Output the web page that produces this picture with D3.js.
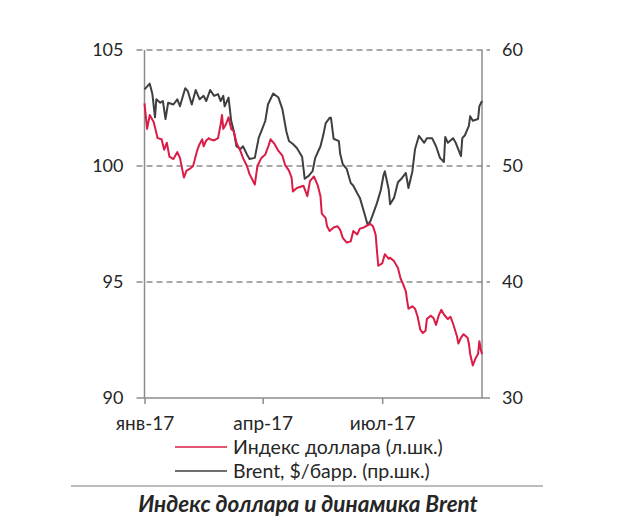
<!DOCTYPE html>
<html>
<head>
<meta charset="utf-8">
<script src="https://cdn.jsdelivr.net/npm/d3@7"></script>
<style>
    body { margin: 0; background: #fff; }
    text { font-family: Lato, "Open Sans", sans-serif; fill: #262626; }
</style>
</head>
<body>
<div id="chart"></div>
<script>
const dollarColor = '#da1c46';
const brentColor = '#3f3f3f';
const gridColor = '#8c8c8c';

// Индекс доллара (левая шкала)
const dollarDates = ['2017-01-01','2017-01-03','2017-01-05','2017-01-08','2017-01-11','2017-01-14','2017-01-16','2017-01-18','2017-01-20','2017-01-23','2017-01-26','2017-01-28','2017-01-31','2017-02-02','2017-02-05','2017-02-07','2017-02-10','2017-02-12','2017-02-14','2017-02-15','2017-02-17','2017-02-19','2017-02-20','2017-02-23','2017-02-26','2017-02-28','2017-03-01','2017-03-02','2017-03-04','2017-03-06','2017-03-08','2017-03-10','2017-03-12','2017-03-15','2017-03-17','2017-03-20','2017-03-22','2017-03-26','2017-03-28','2017-03-31','2017-04-03','2017-04-05','2017-04-07','2017-04-10','2017-04-13','2017-04-16','2017-04-18','2017-04-21','2017-04-23','2017-04-24','2017-04-27','2017-05-02','2017-05-05','2017-05-07','2017-05-10','2017-05-13','2017-05-15','2017-05-16','2017-05-19','2017-05-20','2017-05-22','2017-05-25','2017-05-28','2017-05-30','2017-06-01','2017-06-04','2017-06-07','2017-06-09','2017-06-12','2017-06-14','2017-06-17','2017-06-20','2017-06-22','2017-06-24','2017-06-26','2017-06-27','2017-06-28','2017-07-01','2017-07-03','2017-07-06','2017-07-07','2017-07-10','2017-07-13','2017-07-15','2017-07-17','2017-07-19','2017-07-20','2017-07-21','2017-07-24','2017-07-26','2017-07-28','2017-07-30','2017-08-01','2017-08-03','2017-08-04','2017-08-07','2017-08-09','2017-08-11','2017-08-13','2017-08-15','2017-08-17','2017-08-20','2017-08-22','2017-08-24','2017-08-27','2017-08-28','2017-08-30','2017-09-01','2017-09-04','2017-09-05','2017-09-06','2017-09-08','2017-09-10','2017-09-12','2017-09-13','2017-09-14','2017-09-15'];
const dollarValues = [102.7,101.6,102.2,101.9,101.2,101.15,100.7,101.0,100.4,100.3,100.6,100.35,99.5,99.8,99.9,100.0,100.65,100.95,101.15,100.85,101.1,101.2,101.15,101.1,101.2,101.8,102.2,101.6,101.8,102.1,101.6,101.5,101.0,100.65,100.35,100.0,99.65,99.2,100.0,100.35,100.5,100.8,101.15,100.95,100.65,100.45,100.05,99.8,99.5,98.9,99.05,99.15,98.7,99.35,99.55,99.15,98.7,97.95,97.75,97.4,97.2,97.35,97.4,97.25,96.9,96.7,96.75,97.2,97.05,97.3,97.35,97.45,97.5,97.4,97.05,96.35,95.7,95.8,96.2,96.0,96.05,95.9,95.6,95.15,94.9,94.6,94.2,93.85,93.95,93.85,93.5,92.95,92.8,92.9,93.4,93.55,93.45,93.15,93.55,93.8,93.6,93.4,93.5,93.2,92.65,92.35,92.6,92.75,92.6,92.35,91.9,91.4,91.7,91.9,92.45,92.1,91.9];

// Brent, $/барр. (правая шкала)
const brentDates = ['2017-01-01','2017-01-05','2017-01-07','2017-01-09','2017-01-10','2017-01-13','2017-01-15','2017-01-17','2017-01-19','2017-01-23','2017-01-26','2017-01-28','2017-02-01','2017-02-03','2017-02-06','2017-02-09','2017-02-12','2017-02-15','2017-02-17','2017-02-20','2017-02-23','2017-02-26','2017-02-28','2017-03-02','2017-03-03','2017-03-06','2017-03-08','2017-03-10','2017-03-12','2017-03-15','2017-03-17','2017-03-20','2017-03-22','2017-03-26','2017-03-29','2017-03-31','2017-04-03','2017-04-05','2017-04-09','2017-04-13','2017-04-16','2017-04-19','2017-04-21','2017-04-24','2017-04-27','2017-05-01','2017-05-03','2017-05-06','2017-05-09','2017-05-11','2017-05-15','2017-05-17','2017-05-19','2017-05-22','2017-05-23','2017-05-25','2017-05-29','2017-05-30','2017-06-01','2017-06-04','2017-06-07','2017-06-09','2017-06-12','2017-06-14','2017-06-17','2017-06-20','2017-06-22','2017-06-24','2017-06-27','2017-06-30','2017-07-02','2017-07-03','2017-07-06','2017-07-07','2017-07-10','2017-07-13','2017-07-16','2017-07-19','2017-07-21','2017-07-24','2017-07-26','2017-07-29','2017-08-01','2017-08-02','2017-08-04','2017-08-08','2017-08-11','2017-08-14','2017-08-17','2017-08-18','2017-08-20','2017-08-24','2017-08-26','2017-08-30','2017-08-31','2017-09-02','2017-09-05','2017-09-06','2017-09-08','2017-09-12','2017-09-13','2017-09-15'];
const brentValues = [56.6,57.1,56.2,54.2,55.75,55.45,55.6,54.05,55.45,55.3,55.75,55.15,56.7,56.45,55.3,56.55,55.75,56.05,55.6,56.55,56.05,56.2,55.6,56.05,55.15,55.9,53.9,53.0,51.7,51.45,51.7,51.0,50.6,50.7,52.45,53.0,53.9,55.3,56.25,55.9,54.9,53.0,52.15,51.9,51.55,50.8,48.9,49.15,49.55,50.7,51.7,52.6,53.7,54.15,54.15,52.35,52.15,51.05,50.15,49.75,48.55,48.3,47.65,47.25,46.1,44.9,45.25,45.85,46.8,47.95,49.2,49.55,47.95,46.7,47.25,48.6,48.95,49.4,48.1,49.55,51.45,52.6,52.15,52.0,52.4,52.4,51.7,50.7,50.35,52.5,52.0,52.4,52.0,50.85,52.4,52.65,53.45,54.3,53.9,54.05,55.15,55.6];

const leftTicks = [90, 95, 100, 105];
const rightTicks = [30, 40, 50, 60];
const xTickDates = ['2017-01-01', '2017-04-01', '2017-07-01'];
const xTickLabels = ['янв-17', 'апр-17', 'июл-17'];

const legendNames = ['Индекс доллара (л.шк.)', 'Brent, $/барр. (пр.шк.)'];
const chartTitle = 'Индекс доллара и динамика Brent';

function chart() {
    const W = 640, H = 531;
    const margin = {top: 50, right: 158, bottom: 133, left: 144.5};
    const width = W - margin.left - margin.right;
    const height = H - margin.top - margin.bottom;
    const parse = d3.timeParse('%Y-%m-%d');

    const root = d3.select('#chart')
        .append('svg')
        .attr('width', W)
        .attr('height', H);
    const svg = root.append('g')
        .attr('transform', `translate(${margin.left}, ${margin.top})`);

    const x = d3.scaleTime()
        .domain([parse('2017-01-01'), parse('2017-09-15')])
        .range([0, width]);
    const yL = d3.scaleLinear().domain([90, 105]).range([height, 0]);
    const yR = d3.scaleLinear().domain([30, 60]).range([height, 0]);

    // dashed gridlines (with small outside ticks on both sides)
    svg.selectAll('.grid')
        .data(leftTicks.filter(d => d > 90))
        .enter()
        .append('line')
        .attr('x1', -8)
        .attr('x2', width + 8)
        .attr('y1', d => yL(d))
        .attr('y2', d => yL(d))
        .attr('stroke', gridColor)
        .attr('stroke-width', 1.3)
        .attr('stroke-dasharray', '6,4');

    // axis frame
    svg.append('line')
        .attr('x1', -8).attr('x2', width + 8)
        .attr('y1', height).attr('y2', height)
        .attr('stroke', gridColor).attr('stroke-width', 1.5);
    svg.append('line')
        .attr('x1', 0).attr('x2', 0)
        .attr('y1', 0).attr('y2', height)
        .attr('stroke', gridColor).attr('stroke-width', 1.5);
    svg.append('line')
        .attr('x1', width).attr('x2', width)
        .attr('y1', 0).attr('y2', height)
        .attr('stroke', gridColor).attr('stroke-width', 1.5);

    // Y axes (labels only)
    const left = svg.append('g')
        .call(d3.axisLeft(yL).tickValues(leftTicks).tickSize(0).tickPadding(21));
    const right = svg.append('g')
        .attr('transform', `translate(${width}, 0)`)
        .call(d3.axisRight(yR).tickValues(rightTicks).tickSize(0).tickPadding(20));
    [left, right].forEach(g => {
        g.select('.domain').remove();
        g.selectAll('text').style('font-size', '18px').attr('fill', '#262626');
    });

    // X axis
    const bottom = svg.append('g')
        .attr('transform', `translate(0, ${height})`)
        .call(d3.axisBottom(x)
            .tickValues(xTickDates.map(parse))
            .tickFormat((d, i) => xTickLabels[i])
            .tickSize(6)
            .tickPadding(13)
            .tickSizeOuter(0));
    bottom.select('.domain').remove();
    bottom.selectAll('line').attr('stroke', gridColor).attr('stroke-width', 1.5);
    bottom.selectAll('text').style('font-size', '19px').attr('fill', '#262626');

    // lines
    const brent = brentDates.map((d, i) => ({date: parse(d), value: brentValues[i]}));
    const dollar = dollarDates.map((d, i) => ({date: parse(d), value: dollarValues[i]}));

    svg.append('path')
        .datum(brent)
        .attr('fill', 'none')
        .attr('stroke', brentColor)
        .attr('stroke-width', 2)
        .attr('stroke-linejoin', 'round')
        .attr('d', d3.line().x(d => x(d.date)).y(d => yR(d.value)));

    svg.append('path')
        .datum(dollar)
        .attr('fill', 'none')
        .attr('stroke', dollarColor)
        .attr('stroke-width', 2)
        .attr('stroke-linejoin', 'round')
        .attr('d', d3.line().x(d => x(d.date)).y(d => yL(d.value)));

    // legend
    const legend = root.append('g').attr('transform', 'translate(175, 447)');
    [dollarColor, brentColor].forEach((c, i) => {
        legend.append('line')
            .attr('x1', 0).attr('x2', 52)
            .attr('y1', i * 24).attr('y2', i * 24)
            .attr('stroke', c).attr('stroke-width', 1.5);
        legend.append('text')
            .attr('x', 58)
            .attr('y', i * 24)
            .attr('dy', '0.35em')
            .style('font-size', '19.5px')
            .text(legendNames[i]);
    });

    // separator and caption
    root.append('line')
        .attr('x1', 71).attr('x2', 543)
        .attr('y1', 486).attr('y2', 486)
        .attr('stroke', '#a6a6a6').attr('stroke-width', 1.5);
    root.append('text')
        .attr('x', 308)
        .attr('y', 512)
        .attr('text-anchor', 'middle')
        .style('font-size', '22.5px')
        .style('font-weight', 'bold')
        .style('font-style', 'italic')
        .attr('fill', '#000')
        .text(chartTitle);
}

chart();
</script>
</body>
</html>
